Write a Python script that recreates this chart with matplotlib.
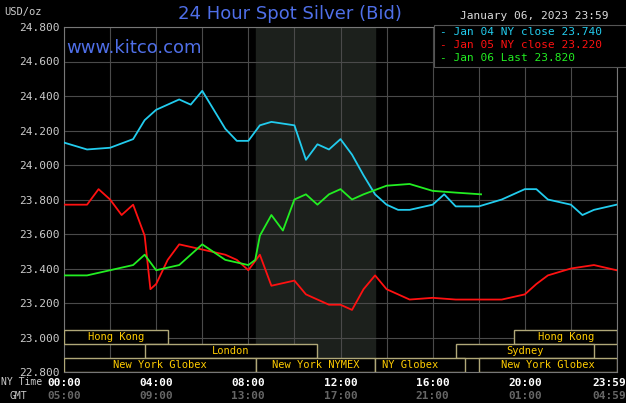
import matplotlib
matplotlib.use("Agg")
import matplotlib.pyplot as plt
from matplotlib.patches import Rectangle

# data (hours since 00:00 NY time, price)
blue_t = [0,1,2,3,3.5,4,5,5.5,6,6.5,7,7.5,8,8.5,9,10,10.5,11,11.5,12,12.5,13,13.5,14,14.5,15,16,16.5,17,18,19,20,20.5,21,22,22.5,23,23.98]
blue_v = [24.13,24.09,24.10,24.15,24.26,24.32,24.38,24.35,24.43,24.32,24.21,24.14,24.14,24.23,24.25,24.23,24.03,24.12,24.09,24.15,24.06,23.94,23.83,23.77,23.74,23.74,23.77,23.83,23.76,23.76,23.80,23.86,23.86,23.80,23.77,23.71,23.74,23.77]
red_t = [0,1,1.5,2,2.5,3,3.5,3.75,4,4.5,5,6,7,7.5,8,8.5,9,10,10.5,11,11.5,12,12.5,13,13.5,14,14.5,15,16,17,18,19,20,20.5,21,22,23,23.98]
red_v = [23.77,23.77,23.86,23.80,23.71,23.77,23.59,23.28,23.31,23.45,23.54,23.51,23.48,23.45,23.39,23.48,23.30,23.33,23.25,23.22,23.19,23.19,23.16,23.28,23.36,23.28,23.25,23.22,23.23,23.22,23.22,23.22,23.25,23.31,23.36,23.40,23.42,23.39]
green_t = [0,1,2,3,3.5,4,5,6,7,8,8.3,8.5,9,9.5,10,10.5,11,11.5,12,12.5,13,14,15,16,17,18.1]
green_v = [23.36,23.36,23.39,23.42,23.48,23.39,23.42,23.54,23.45,23.42,23.45,23.59,23.71,23.62,23.80,23.83,23.77,23.83,23.86,23.80,23.83,23.88,23.89,23.85,23.84,23.83]
xtick_pos = [0,4,8,12,16,20,23.98]
xtick_labels = ["00:00","04:00","08:00","12:00","16:00","20:00","23:59"]
gmt_labels = ["05:00","09:00","13:00","17:00","21:00","01:00","04:59"]
ytick_vals = [22.8,23.0,23.2,23.4,23.6,23.8,24.0,24.2,24.4,24.6,24.8]

mono = "DejaVu Sans Mono"
fig = plt.figure(figsize=(6.26,4.03), dpi=100, facecolor="black")
ax = fig.add_axes([64/626, 1-372/403, 553/626, 345/403], facecolor="black")
ax.set_xlim(0,24); ax.set_ylim(22.8,24.8)
for x in range(0,25,2):
    ax.axvline(x, color="#4a4a4a", lw=0.8, zorder=1)
for y in ytick_vals:
    ax.axhline(y, color="#4a4a4a", lw=0.8, zorder=1)
ax.axvspan(8.33,13.5,color="#1c201c",zorder=0)
for s in ax.spines.values(): s.set_color("#777777")

ax.plot(blue_t, blue_v, color="#22ccee", lw=1.3, zorder=3)
ax.plot(red_t, red_v, color="#ff1111", lw=1.3, zorder=3)
ax.plot(green_t, green_v, color="#22ee22", lw=1.3, zorder=4)

ax.set_yticks(ytick_vals)
ax.set_yticklabels([f"{v:.3f}" for v in ytick_vals], color="#cccccc", fontsize=8, family=mono)
ax.set_xticks([])
ax.tick_params(length=0, pad=3)
tr = ax.get_xaxis_transform()
for i,(x,l,g) in enumerate(zip(xtick_pos, xtick_labels, gmt_labels)):
    ha = "right" if i == len(xtick_pos)-1 else "center"
    dx = 0.4 if ha == "right" else 0
    ax.text(x+dx, -0.0145*2.2, l, transform=tr, ha=ha, va="center", color="white", fontsize=8, family=mono, fontweight="bold")
    ax.text(x+dx, -0.0145*4.7, g, transform=tr, ha=ha, va="center", color="#666666", fontsize=8, family=mono, fontweight="bold")
fig.text(1/626, 1-382/403, "NY Time", color="#cccccc", fontsize=7, family=mono, va="center")
fig.text(10/626, 1-396/403, "GMT", color="#cccccc", fontsize=7, family=mono, va="center")

# session boxes: (start, end, row, label)
sessions = [(0,4.5,2,"Hong Kong"),(19.55,24,2,"Hong Kong"),(3.5,11.0,1,"London"),(17.0,23.0,1,"Sydney"),
            (0,8.33,0,"New York Globex"),(8.33,13.5,0,"New York NYMEX"),(13.5,17.4,0,"NY Globex"),(18.0,24,0,"New York Globex")]
rowh = 0.081
for s,e,r,lab in sessions:
    ax.add_patch(Rectangle((s,22.8+r*rowh),e-s,rowh,fill=True,facecolor="black",edgecolor="#b0a878",lw=1,zorder=5))
    ax.text((s+e)/2 if lab!="NY Globex" else s+0.3,22.8+(r+0.5)*rowh,lab,ha="center" if lab!="NY Globex" else "left",va="center",color="#ffcc00",fontsize=7.5,family=mono,zorder=6)

fig.text(4/626,1-12/403,"USD/oz",color="#cccccc",fontsize=7.5,family=mono,va="center")
fig.text(290/626,1-14/403,"24 Hour Spot Silver (Bid)",color="#4f6fe8",fontsize=13,ha="center",va="center")
fig.text(66/626,1-48/403,"www.kitco.com",color="#4f6fe8",fontsize=13,va="center")
fig.text(608/626,1-16/403,"January 06, 2023 23:59",color="#dddddd",fontsize=8,family=mono,ha="right",va="center")
ax.add_patch(Rectangle((434/626,1-67/403),(626-434)/626,42/403,transform=fig.transFigure,facecolor="black",edgecolor="#555555",lw=0.8,zorder=7,clip_on=False))
for i,(t,c) in enumerate([("Jan 04 NY close 23.740","#22ccee"),("Jan 05 NY close 23.220","#ff1111"),("Jan 06 Last 23.820","#22ee22")]):
    fig.text(440/626,1-(32+i*13)/403,"- "+t,color=c,fontsize=8,family=mono,va="center",zorder=8)
fig.savefig("out.png",dpi=100,facecolor="black")
